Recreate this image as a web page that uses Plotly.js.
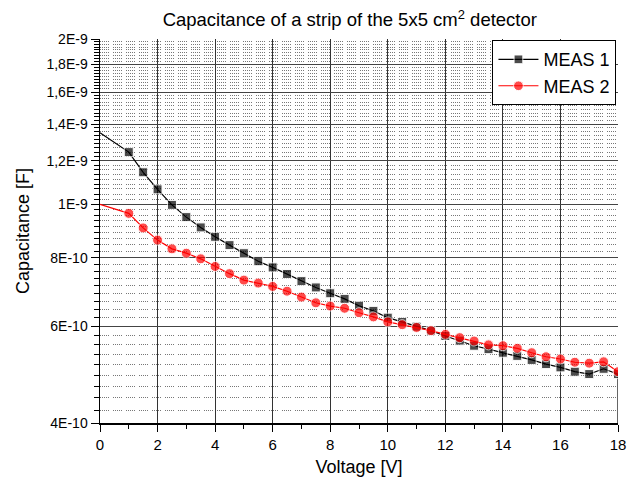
<!DOCTYPE html>
<html>
<head>
<meta charset="utf-8">
<script src="https://cdn.plot.ly/plotly-3.0.1.min.js"></script>
<style>html,body{margin:0;padding:0;background:#fff;}#chart{width:628px;height:484px;}</style>
</head>
<body>
<div id="chart"></div>
<script>
// Data
const voltage = [0, 1, 1.5, 2, 2.5, 3, 3.5, 4, 4.5, 5, 5.5, 6, 6.5, 7, 7.5, 8, 8.5, 9, 9.5,
  10, 10.5, 11, 11.5, 12, 12.5, 13, 13.5, 14, 14.5, 15, 15.5, 16, 16.5, 17, 17.5, 18];
const meas1 = [1.35e-9, 1.245e-9, 1.144e-9, 1.065e-9, 0.998e-9, 0.948e-9, 0.908e-9, 0.873e-9,
  0.843e-9, 0.815e-9, 0.788e-9, 0.768e-9, 0.747e-9, 0.725e-9, 0.706e-9, 0.689e-9, 0.673e-9,
  0.654e-9, 0.640e-9, 0.622e-9, 0.611e-9, 0.599e-9, 0.589e-9, 0.576e-9, 0.565e-9, 0.553e-9,
  0.545e-9, 0.537e-9, 0.530e-9, 0.521e-9, 0.512e-9, 0.505e-9, 0.496e-9, 0.491e-9, 0.502e-9, 0.491e-9];
const meas1DropVoltage = 18;
const meas1DropValue = 3.5e-10;
const meas2 = [1.0e-9, 0.963e-9, 0.906e-9, 0.861e-9, 0.830e-9, 0.815e-9, 0.796e-9, 0.771e-9,
  0.748e-9, 0.728e-9, 0.719e-9, 0.709e-9, 0.695e-9, 0.678e-9, 0.662e-9, 0.653e-9, 0.647e-9,
  0.635e-9, 0.624e-9, 0.611e-9, 0.604e-9, 0.597e-9, 0.589e-9, 0.580e-9, 0.572e-9, 0.564e-9,
  0.555e-9, 0.553e-9, 0.547e-9, 0.537e-9, 0.528e-9, 0.523e-9, 0.516e-9, 0.514e-9, 0.517e-9, 0.496e-9];
const seriesNames = ['MEAS 1', 'MEAS 2'];
const yTickVals = [4e-10, 6e-10, 8e-10, 1e-9, 1.2e-9, 1.4e-9, 1.6e-9, 1.8e-9, 2e-9];
const yTickText = ['4E-10', '6E-10', '8E-10', '1E-9', '1,2E-9', '1,4E-9', '1,6E-9', '1,8E-9', '2E-9'];

// Minor y ticks: 8 minor ticks within each major interval
const yMinorVals = [];
for (let i = 0; i < yTickVals.length - 1; i++) {
  const a = yTickVals[i], b = yTickVals[i + 1];
  for (let k = 1; k < 9; k++) yMinorVals.push(a + (b - a) * k / 9);
}

const x1 = voltage.concat([meas1DropVoltage]);
const y1 = meas1.concat([meas1DropValue]);
const size1 = x1.map((v, i) => (i === 0 ? 0 : 9));
const size2 = voltage.map((v, i) => (i === 0 ? 0 : 10));

const FONT = 'Liberation Sans, Arial, sans-serif';

const traces = [
  {
    x: x1, y: y1, name: seriesNames[0], type: 'scatter', mode: 'lines+markers',
    line: {color: '#000000', width: 1.2},
    marker: {symbol: 'square', size: size1, color: '#000000'}
  },
  {
    x: voltage, y: meas2, name: seriesNames[1], type: 'scatter', mode: 'lines+markers',
    line: {color: '#ff0000', width: 1.2},
    marker: {symbol: 'circle', size: size2, color: '#ff0000'}
  }
];

const layout = {
  width: 628, height: 484,
  margin: {l: 100, r: 10, t: 39, b: 61},
  paper_bgcolor: '#ffffff', plot_bgcolor: '#ffffff',
  font: {family: FONT, color: '#000000'},
  title: {
    text: 'Capacitance of a strip of the 5x5 cm<sup>2</sup> detector',
    font: {family: FONT, size: 18.5, color: '#000'},
    x: 0.557, xanchor: 'center', y: 0.959, yanchor: 'middle'
  },
  showlegend: true,
  legend: {
    x: 0.997, y: 0.997, xanchor: 'right', yanchor: 'top',
    bgcolor: '#ffffff', bordercolor: '#000000', borderwidth: 1,
    font: {family: FONT, size: 18, color: '#000'},
    tracegroupgap: 0, itemwidth: 40
  },
  xaxis: {
    range: [0, 18], dtick: 2, tick0: 0,
    showline: true, linecolor: '#000', linewidth: 1.5, mirror: false,
    ticks: 'outside', ticklen: 7, tickwidth: 1, tickcolor: '#000',
    showgrid: true, gridcolor: '#333', gridwidth: 1,
    zeroline: false,
    tickfont: {family: FONT, size: 15, color: '#000'},
    minor: {dtick: 1, ticks: 'outside', ticklen: 4, tickcolor: '#000', showgrid: false},
    title: {text: 'Voltage [V]', font: {family: FONT, size: 18, color: '#000'}, standoff: 9}
  },
  yaxis: {
    type: 'log',
    range: [Math.log10(4e-10), Math.log10(2e-9)],
    tickmode: 'array', tickvals: yTickVals, ticktext: yTickText,
    showline: true, linecolor: '#000', linewidth: 1.5, mirror: false,
    ticks: 'outside', ticklen: 8, tickwidth: 1, tickcolor: '#000',
    showgrid: true, gridcolor: '#444', gridwidth: 1,
    zeroline: false,
    tickfont: {family: FONT, size: 14, color: '#000'},
    minor: {
      tickmode: 'array', tickvals: yMinorVals,
      ticks: 'outside', ticklen: 5, tickcolor: '#000',
      showgrid: true, gridcolor: '#777', gridwidth: 1,
      griddash: '1px,1px,1px,1px,1px,1px,1px,1px,1px,4px'
    },
    title: {text: 'Capacitance [F]', font: {family: FONT, size: 18, color: '#000'}, standoff: 12}
  }
};

Plotly.newPlot('chart', traces, layout, {displayModeBar: false, staticPlot: true});
</script>
</body>
</html>
